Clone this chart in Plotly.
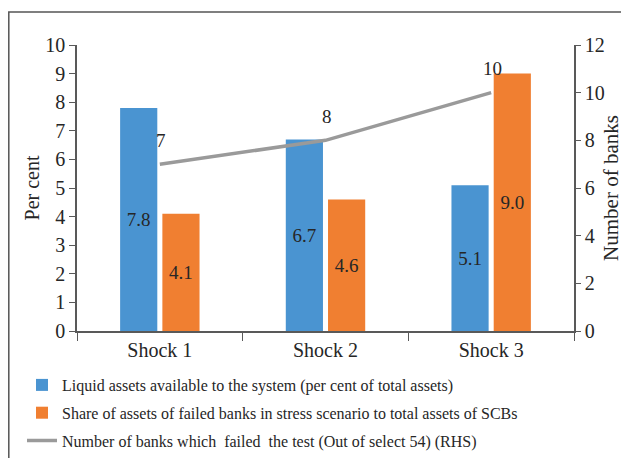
import plotly.graph_objects as go

categories = ["Shock 1", "Shock 2", "Shock 3"]
liquid_assets = [7.8, 6.7, 5.1]
failed_share = [4.1, 4.6, 9.0]
failed_banks = [7, 8, 10]
left_ticks = list(range(0, 11))
right_ticks = list(range(0, 13, 2))

names = [
    "Liquid assets available to the system (per cent of total assets)",
    "Share of assets of failed banks in stress scenario to total assets of SCBs",
    "Number of banks which  failed  the test (Out of select 54) (RHS)",
]

FONT = "Liberation Serif"
TXT = "#262626"
AX = "#595959"
OFF = 8  # page body margin
W, H = 629 - OFF, 459 - OFF - 1
# plot area in screen pixels: x 77..574, y 45..331
ML = 77 - OFF
MR = W - (574 - OFF)
MT = 45 - OFF
MB = H - (331 - OFF)
PW, PH = W - ML - MR, H - MT - MB

def px_x(p):
    return (p - OFF - ML) / PW

def px_y(p):
    return (H - MB - (p - OFF)) / PH

fig = go.Figure()
fig.add_bar(
    x=categories, y=liquid_assets, name=names[0],
    marker=dict(color="#4A94D1", line=dict(width=0)),
    text=[f"{v:.1f}" for v in liquid_assets], textposition="inside",
    insidetextanchor="middle", textangle=0,
    textfont=dict(family=FONT, size=19, color=TXT),
    legendgroup="g1",
)
fig.add_bar(
    x=categories, y=failed_share, name=names[1],
    marker=dict(color="#F07F31", line=dict(width=0)),
    text=[f"{v:.1f}" for v in failed_share], textposition="inside",
    insidetextanchor="middle", textangle=0,
    textfont=dict(family=FONT, size=19, color=TXT),
    legendgroup="g2",
)
fig.add_scatter(
    x=categories, y=failed_banks, name=names[2], yaxis="y2",
    mode="lines", line=dict(color="#9A9A9A", width=3.5),
    legendgroup="g3",
)

annotations = []
for c, v in zip(categories, failed_banks):
    annotations.append(dict(
        x=c, y=v, xref="x", yref="y2", text=str(v), showarrow=False,
        yshift=24, xshift=1, font=dict(family=FONT, size=19, color=TXT),
    ))

fig.update_layout(
    width=W, height=H,
    margin=dict(l=ML, r=MR, t=MT, b=MB, autoexpand=False),
    paper_bgcolor="white", plot_bgcolor="white",
    font=dict(family=FONT, color=TXT),
    barmode="group", bargap=0.49, bargroupgap=0.12,
    annotations=annotations,
    xaxis=dict(
        showline=True, linecolor=AX, linewidth=1.5, automargin=False,
        ticks="outside", tickson="boundaries", ticklen=8, tickcolor=AX,
        tickfont=dict(size=20, color=TXT), showgrid=False,
    ),
    yaxis=dict(
        range=[0, 10], tickvals=left_ticks, showline=True, linecolor=AX,
        linewidth=1.5, ticks="outside", ticklen=6, tickcolor=AX, automargin=False,
        showgrid=False, zeroline=False, tickfont=dict(size=20, color=TXT),
        title=dict(text="Per cent", font=dict(size=20, color=TXT), standoff=0),
    ),
    yaxis2=dict(
        range=[0, 12], tickvals=right_ticks, overlaying="y", side="right",
        showline=True, linecolor=AX, linewidth=1.5, ticks="outside",
        ticklen=5, tickcolor=AX, showgrid=False, zeroline=False, automargin=False,
        tickfont=dict(size=20, color=TXT),
        title=dict(text="Number of banks", font=dict(size=21, color=TXT), standoff=0),
    ),
    legend=dict(
        orientation="v", x=px_x(22), y=px_y(368), xanchor="left", yanchor="top",
        font=dict(size=16, color=TXT), traceorder="grouped", tracegroupgap=4,
        bgcolor="rgba(0,0,0,0)",
    ),
    shapes=[dict(
        type="rect", xref="paper", yref="paper",
        x0=px_x(OFF + 0.8), x1=px_x(700), y0=px_y(520), y1=px_y(12),
        line=dict(color="#555555", width=1.5), fillcolor="rgba(0,0,0,0)",
        layer="below",
    )],
)

fig.write_html("out.html")
